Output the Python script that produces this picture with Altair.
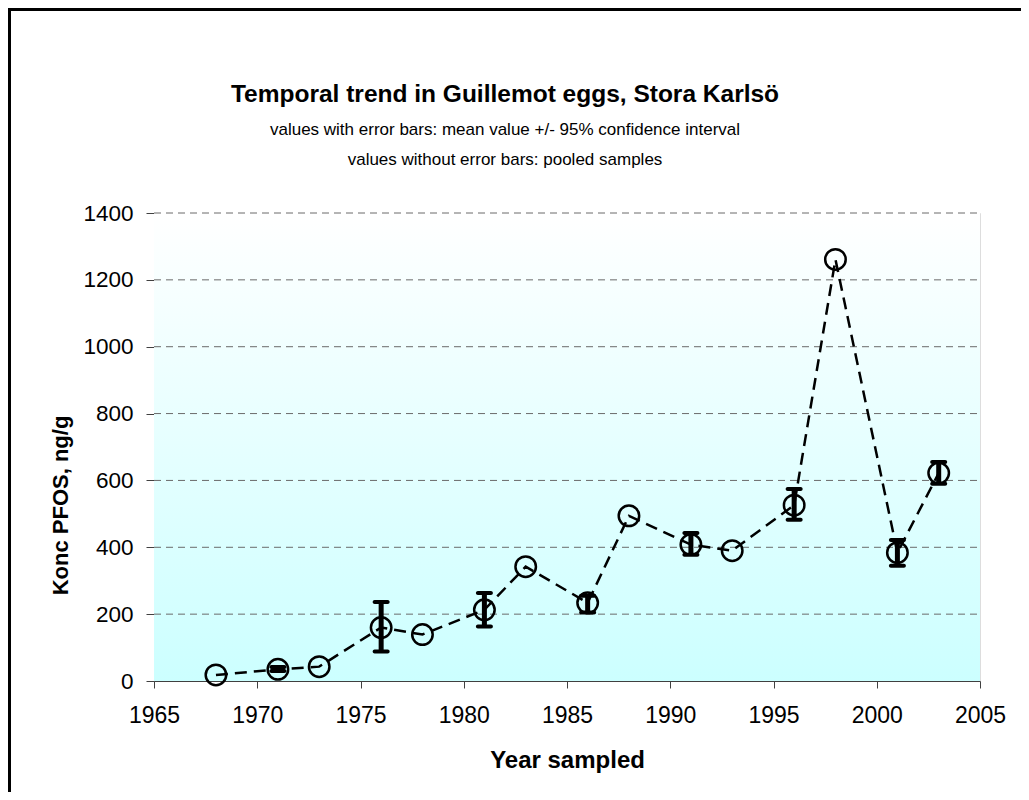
import altair as alt
import pandas as pd

years = [1968, 1971, 1973, 1976, 1978, 1981, 1983, 1986, 1988, 1991, 1993, 1996, 1998, 2001, 2003]
values = [18, 35, 43, 160, 139, 213, 342, 234, 494, 408, 390, 526, 1261, 384, 622]

eb_years = [1971, 1976, 1981, 1986, 1991, 1996, 2001, 2003]
eb_low = [30, 88, 163, 205, 378, 482, 345, 590]
eb_high = [42, 236, 263, 255, 443, 574, 422, 655]

grid_values = [200, 400, 600, 800, 1000, 1200, 1400]
x_ticks = [1965, 1970, 1975, 1980, 1985, 1990, 1995, 2000, 2005]
y_ticks = [0, 200, 400, 600, 800, 1000, 1200, 1400]

title_text = "Temporal trend in Guillemot eggs, Stora Karlsö"
subtitle_lines = [
    "values with error bars: mean value +/- 95% confidence interval",
    "values without error bars: pooled samples",
]
x_title = "Year sampled"
y_title = "Konc PFOS, ng/g"

FONT = "Liberation Sans"
W, H = 826, 468
PAD_L, PAD_T = 146, 205
PAD_R = 1013 - PAD_L - W
PAD_B = 784 - PAD_T - H

df = pd.DataFrame({"year": years, "value": values})
eb = pd.DataFrame({"year": eb_years, "low": eb_low, "high": eb_high})
grid = pd.DataFrame({"g": grid_values})

xscale = alt.Scale(domain=[1965, 2005], nice=False, zero=False)
yscale = alt.Scale(domain=[0, 1400], nice=False)

ax_x = alt.Axis(
    values=x_ticks, format="d", title=x_title, grid=False, labelFlush=False,
    domainColor="#404040", domainWidth=1, tickColor="#404040", tickSize=7,
    labelFontSize=23, labelFont=FONT, labelColor="black", labelPadding=16,
    titleFont=FONT, titleFontSize=24, titleFontWeight="bold", titleColor="black",
    titleBaseline="middle", titleY=79,
)
ax_y = alt.Axis(
    values=y_ticks, format="d", title=y_title, grid=False, labelFlush=False,
    domainColor="#404040", domainWidth=1, tickColor="#404040", tickSize=8,
    labelFontSize=22.5, labelFont=FONT, labelColor="black", labelPadding=13,
    titleFont=FONT, titleFontSize=22, titleFontWeight="bold", titleColor="black",
    titleAlign="center", titleBaseline="middle", titleAngle=-90,
    titleX=-94, titleY=292,
)

one = alt.Data(values=[{}])

border = alt.Chart(one).mark_rect(
    fillOpacity=0, stroke="black", strokeWidth=3, clip=False
).encode(
    x=alt.value(-PAD_L + 1.5), x2=alt.value(3000),
    y=alt.value(-PAD_T + 1.5), y2=alt.value(3000),
)

bg = alt.Chart(one).mark_rect(
    color=alt.LinearGradient(
        gradient="linear",
        stops=[alt.GradientStop(color="#ffffff", offset=0),
               alt.GradientStop(color="#ccffff", offset=1)],
        x1=0, x2=0, y1=0, y2=1,
    )
).encode(x=alt.value(0), x2=alt.value(W), y=alt.value(0), y2=alt.value(H))

TX = 505 - 8 - PAD_L
title_mark = alt.Chart(one).mark_text(
    text=title_text, font=FONT, fontSize=24.5, fontWeight="bold", color="black",
    align="center", baseline="middle",
).encode(x=alt.value(TX), y=alt.value(95 - 8 - PAD_T))
sub1_mark = alt.Chart(one).mark_text(
    text=subtitle_lines[0], font=FONT, fontSize=17, color="black",
    align="center", baseline="middle",
).encode(x=alt.value(TX), y=alt.value(130 - 8 - PAD_T))
sub2_mark = alt.Chart(one).mark_text(
    text=subtitle_lines[1], font=FONT, fontSize=17, color="black",
    align="center", baseline="middle",
).encode(x=alt.value(TX), y=alt.value(160 - 8 - PAD_T))

gridlines = alt.Chart(grid).mark_rule(
    color="#6a6a6a", strokeWidth=1, strokeDash=[7, 5]
).encode(
    y=alt.Y("g:Q", scale=yscale, axis=ax_y),
    x=alt.value(0), x2=alt.value(W),
)

bars = alt.Chart(eb).mark_rule(color="black", strokeWidth=5).encode(
    x=alt.X("year:Q", scale=xscale, axis=ax_x),
    y=alt.Y("low:Q", scale=yscale, axis=ax_y),
    y2="high:Q",
)
caps_low = alt.Chart(eb).mark_tick(
    color="black", orient="horizontal", size=17, thickness=4, cornerRadius=2, opacity=1
).encode(
    x=alt.X("year:Q", scale=xscale, axis=ax_x),
    y=alt.Y("low:Q", scale=yscale, axis=ax_y),
)
caps_high = alt.Chart(eb).mark_tick(
    color="black", orient="horizontal", size=17, thickness=4, cornerRadius=2, opacity=1
).encode(
    x=alt.X("year:Q", scale=xscale, axis=ax_x),
    y=alt.Y("high:Q", scale=yscale, axis=ax_y),
)

line = alt.Chart(df).mark_line(
    color="black", strokeWidth=2.5, strokeDash=[12, 7]
).encode(
    x=alt.X("year:Q", scale=xscale, axis=ax_x),
    y=alt.Y("value:Q", scale=yscale, axis=ax_y),
)

points = alt.Chart(df).mark_point(
    shape="circle", filled=False, color="black", strokeWidth=2.5, size=420, opacity=1
).encode(
    x=alt.X("year:Q", scale=xscale, axis=ax_x),
    y=alt.Y("value:Q", scale=yscale, axis=ax_y),
)

chart = alt.layer(
    border, bg, title_mark, sub1_mark, sub2_mark,
    gridlines, bars, caps_low, caps_high, line, points,
).properties(
    width=W, height=H,
    autosize=alt.AutoSizeParams(type="none"),
    padding={"left": PAD_L, "top": PAD_T, "right": PAD_R, "bottom": PAD_B},
).configure_view(stroke=None).configure(background="white")

chart.save("out.html", embed_options={"renderer": "svg", "actions": False})
